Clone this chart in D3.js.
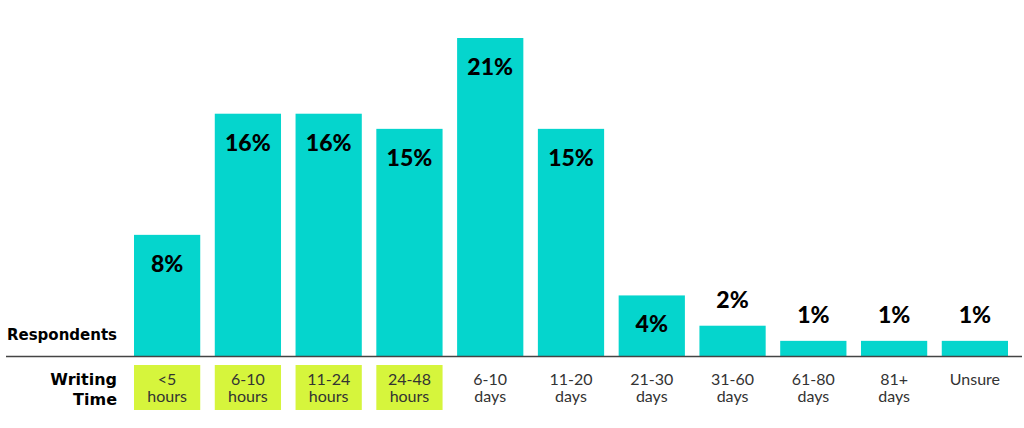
<!DOCTYPE html>
<html>
<head>
<meta charset="utf-8">
<script src="https://cdn.jsdelivr.net/npm/d3@7"></script>
<style>
  body { margin: 0; background: #fff; }
  svg { display: block; }
</style>
</head>
<body>
<div id="chart"></div>
<script>
const WIDTH = 1024, HEIGHT = 428;
const BASELINE = 356;

// data
const categories = ["<5 hours", "6-10 hours", "11-24 hours", "24-48 hours", "6-10 days",
    "11-20 days", "21-30 days", "31-60 days", "61-80 days", "81+ days", "Unsure"];
const labelLines = [["<5", "hours"], ["6-10", "hours"], ["11-24", "hours"], ["24-48", "hours"],
    ["6-10", "days"], ["11-20", "days"], ["21-30", "days"], ["31-60", "days"],
    ["61-80", "days"], ["81+", "days"], ["Unsure"]];
const values = [8, 16, 16, 15, 21, 15, 4, 2, 1, 1, 1];
const highlighted = ["<5 hours", "6-10 hours", "11-24 hours", "24-48 hours"];

const BAR_COLOR = "#05d5cd";
const HILITE = "#d6f53c";

const svg = d3.select("#chart").append("svg")
    .attr("width", WIDTH)
    .attr("height", HEIGHT)

const x = d3.scaleBand()
    .domain(categories)
    .range([134, 1008])
    .paddingInner(0.18)
    .paddingOuter(0)

const y = d3.scaleLinear()
    .domain([0, 21])
    .range([BASELINE, 38])

const data = categories.map((c, i) => ({ cat: c, value: values[i], lines: labelLines[i] }))

// highlight boxes behind hour labels
svg.selectAll("rect.hilite")
    .data(data.filter(d => highlighted.includes(d.cat)))
    .join("rect")
    .attr("class", "hilite")
    .attr("x", d => x(d.cat))
    .attr("y", 365)
    .attr("width", x.bandwidth())
    .attr("height", 45)
    .attr("fill", HILITE)

svg.selectAll("rect.bar")
    .data(data)
    .join("rect")
    .attr("class", "bar")
    .attr("x", d => x(d.cat))
    .attr("y", d => y(d.value))
    .attr("width", x.bandwidth())
    .attr("height", d => BASELINE - y(d.value))
    .attr("fill", BAR_COLOR)

// value labels: inside the bar if there is room, above otherwise
svg.selectAll("text.val")
    .data(data)
    .join("text")
    .attr("class", "val")
    .attr("x", d => x(d.cat) + x.bandwidth() / 2)
    .attr("y", d => d.value >= 4 ? y(d.value) + 37 : y(d.value) - 18)
    .attr("text-anchor", "middle")
    .style("font-family", "Lato, 'DejaVu Sans', sans-serif")
    .style("font-weight", 900)
    .style("font-size", "23px")
    .style("fill", "#000")
    .text(d => d.value + "%")

// baseline
svg.append("line")
    .attr("x1", 6).attr("x2", 1022)
    .attr("y1", BASELINE + 0.5).attr("y2", BASELINE + 0.5)
    .attr("stroke", "#444")
    .attr("stroke-width", 1.5)

// category labels
const catText = svg.selectAll("text.cat")
    .data(data)
    .join("text")
    .attr("class", "cat")
    .attr("text-anchor", "middle")
    .style("font-family", "Lato, 'Open Sans', sans-serif")
    .style("font-weight", 400)
    .style("font-size", "16px")
    .style("fill", "#333")
catText.selectAll("tspan")
    .data(d => d.lines.map(l => ({ l, cx: x(d.cat) + x.bandwidth() / 2 })))
    .join("tspan")
    .attr("x", d => d.cx)
    .attr("y", (d, i) => 385 + i * 17)
    .text(d => d.l)

// side titles
const sideStyle = sel => sel
    .attr("text-anchor", "end")
    .style("font-family", "'DejaVu Sans', sans-serif")
    .style("font-weight", 700)
    .style("font-size", "15px")
    .style("fill", "#000")

svg.append("text").attr("x", 117).attr("y", 340).call(sideStyle).text("Respondents")
svg.append("text").attr("x", 117).attr("y", 385).call(sideStyle).style("font-size", "16px").text("Writing")
svg.append("text").attr("x", 117).attr("y", 405).call(sideStyle).style("font-size", "16px").text("Time")
</script>
</body>
</html>
